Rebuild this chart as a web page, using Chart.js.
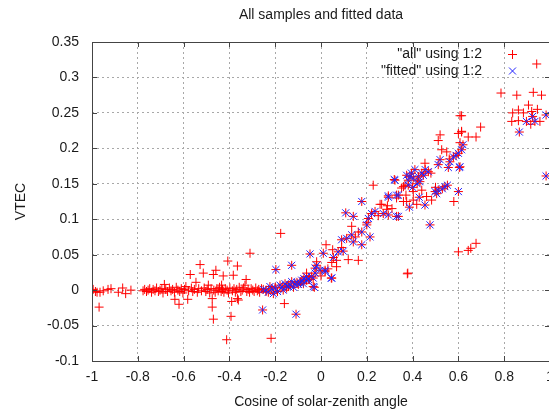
<!DOCTYPE html>
<html lang="en">
<head>
  <meta charset="UTF-8">
  <title>All samples and fitted data</title>
  <script src="https://cdn.jsdelivr.net/npm/chart.js"></script>
  <style>
    body { margin: 0; background: #fff; }
    #wrap { width: 549px; height: 413px; overflow: hidden; }
  </style>
</head>
<body>
  <div id="wrap"><canvas id="vtecChart" width="600" height="413"></canvas></div>

  <script>
    // tick values
    const xTicks = [-1, -0.8, -0.6, -0.4, -0.2, 0, 0.2, 0.4, 0.6, 0.8, 1];
    const yTicks = [-0.1, -0.05, 0, 0.05, 0.1, 0.15, 0.2, 0.25, 0.3, 0.35];

    // samples that were not used by the fit  [cos(sza), vtec]
    const allExtra = [
      [-0.995, 0.001], [-0.985, -0.002], [-0.978, -0.003], [-0.965, -0.003], [-0.951, -0.001],
      [-0.93, 0.001], [-0.917, 0.002], [-0.885, -0.003], [-0.866, 0.003], [-0.853, -0.005],
      [-0.83, 0.0], [-0.969, -0.024],
      [-0.777, -0.001], [-0.77, 0.001], [-0.762, -0.002], [-0.755, 0.0], [-0.748, 0.002],
      [-0.74, -0.003], [-0.733, 0.001], [-0.725, -0.001], [-0.718, 0.003], [-0.71, -0.002],
      [-0.703, 0.0], [-0.695, 0.002], [-0.69, -0.004], [-0.684, 0.008], [-0.678, 0.001],
      [-0.67, -0.002], [-0.662, 0.003], [-0.655, -0.001], [-0.648, 0.001], [-0.64, -0.003],
      [-0.638, -0.013], [-0.632, 0.004], [-0.625, 0.0], [-0.62, -0.02], [-0.617, -0.002],
      [-0.61, 0.002], [-0.603, -0.004], [-0.596, 0.001], [-0.59, 0.005], [-0.582, -0.013],
      [-0.578, -0.001], [-0.571, 0.022], [-0.566, 0.003], [-0.56, -0.002], [-0.553, 0.001],
      [-0.546, 0.011], [-0.54, -0.003], [-0.534, 0.002], [-0.528, 0.036], [-0.522, -0.001],
      [-0.514, 0.024], [-0.51, 0.003], [-0.503, -0.002], [-0.497, 0.001], [-0.492, 0.007],
      [-0.486, -0.004], [-0.48, 0.002], [-0.475, -0.012], [-0.475, -0.024], [-0.47, 0.022],
      [-0.47, -0.041], [-0.468, 0.0], [-0.462, -0.003], [-0.459, 0.028], [-0.455, 0.002],
      [-0.449, -0.001], [-0.443, 0.004], [-0.436, -0.002], [-0.434, 0.007], [-0.43, 0.001],
      [-0.427, 0.02], [-0.424, -0.003], [-0.418, 0.002], [-0.412, -0.07], [-0.41, 0.0],
      [-0.407, 0.041], [-0.404, -0.004], [-0.398, 0.003], [-0.393, -0.037], [-0.39, -0.016],
      [-0.387, -0.001], [-0.383, 0.021], [-0.38, 0.002], [-0.374, -0.003], [-0.368, 0.001],
      [-0.365, 0.034], [-0.365, -0.012], [-0.361, -0.014], [-0.357, 0.004], [-0.35, -0.002],
      [-0.344, 0.0], [-0.338, 0.003], [-0.332, 0.007], [-0.327, 0.015], [-0.324, -0.002],
      [-0.318, 0.001], [-0.31, 0.052], [-0.312, -0.003], [-0.305, 0.002], [-0.298, 0.0],
      [-0.292, -0.002], [-0.285, 0.003], [-0.278, -0.001], [-0.272, 0.001], [-0.268, -0.003],
      [-0.26, 0.002], [-0.24, -0.002], [-0.2, 0.004], [-0.15, 0.003], [-0.218, -0.068],
      [-0.176, 0.08], [-0.16, -0.019], [-0.09, 0.012], [-0.05, 0.015], [0.0, 0.02],
      [-0.063, 0.024], [-0.019, 0.04], [0.022, 0.064], [0.03, 0.03], [0.047, 0.039],
      [0.051, 0.057], [0.068, 0.042], [0.068, 0.033], [0.09, 0.06], [0.119, 0.043],
      [0.163, 0.042], [0.134, 0.09], [0.163, 0.082], [0.15, 0.075], [0.2, 0.095],
      [0.228, 0.148], [0.25, 0.105], [0.258, 0.121], [0.265, 0.121], [0.287, 0.114],
      [0.29, 0.119], [0.31, 0.115], [0.33, 0.13], [0.352, 0.144], [0.36, 0.146],
      [0.367, 0.148], [0.371, 0.134], [0.374, 0.125], [0.36, 0.125], [0.377, 0.023],
      [0.379, 0.024], [0.403, 0.139], [0.44, 0.141], [0.403, 0.127], [0.418, 0.121],
      [0.42, 0.155], [0.461, 0.132], [0.483, 0.127], [0.48, 0.165], [0.5, 0.145],
      [0.56, 0.185], [0.58, 0.125], [0.6, 0.054], [0.643, 0.056], [0.654, 0.059],
      [0.677, 0.066], [0.454, 0.179], [0.512, 0.211], [0.52, 0.219], [0.527, 0.198],
      [0.549, 0.195], [0.607, 0.246], [0.6, 0.221], [0.614, 0.223], [0.607, 0.208],
      [0.643, 0.216], [0.614, 0.246], [0.614, 0.224], [0.697, 0.23], [0.677, 0.216],
      [0.786, 0.278], [0.855, 0.275], [0.927, 0.279], [0.963, 0.275], [0.906, 0.261],
      [0.837, 0.25], [0.862, 0.254], [0.884, 0.25], [0.92, 0.252], [0.945, 0.255],
      [0.833, 0.238], [0.862, 0.239], [0.916, 0.234], [0.956, 0.238], [0.942, 0.319]
    ];

    // samples used by the fit (they are also part of "all")
    const fitted = [
      [-0.255, -0.028], [-0.197, 0.029], [-0.252, 0.001], [-0.24, 0.0], [-0.23, -0.003],
      [-0.223, 0.005], [-0.215, 0.002], [-0.208, -0.005], [-0.2, 0.003], [-0.19, -0.002],
      [-0.179, 0.007], [-0.17, 0.004], [-0.165, 0.0], [-0.157, 0.009], [-0.15, 0.006],
      [-0.142, 0.005], [-0.135, 0.007], [-0.128, 0.012], [-0.12, 0.004], [-0.114, 0.009],
      [-0.105, 0.011], [-0.099, 0.008], [-0.09, 0.01], [-0.084, 0.014], [-0.077, 0.009],
      [-0.075, 0.016], [-0.063, 0.019], [-0.063, 0.014], [-0.055, 0.015], [-0.041, 0.019],
      [-0.034, 0.017], [-0.034, 0.005], [-0.029, 0.004], [-0.026, 0.024], [-0.026, 0.031],
      [-0.019, 0.035], [-0.004, 0.028], [0.018, 0.026], [0.018, 0.028], [0.01, 0.052],
      [-0.048, 0.051], [-0.128, 0.035], [-0.109, -0.034], [0.045, 0.017], [0.047, 0.017],
      [0.054, 0.046], [0.075, 0.054], [0.097, 0.055], [0.09, 0.071], [0.112, 0.073],
      [0.134, 0.078], [0.141, 0.068], [0.141, 0.104], [0.108, 0.109], [0.178, 0.064],
      [0.178, 0.082], [0.178, 0.125], [0.2, 0.092], [0.207, 0.101], [0.214, 0.075],
      [0.221, 0.108], [0.236, 0.111], [0.272, 0.108], [0.294, 0.106], [0.294, 0.131],
      [0.294, 0.133], [0.33, 0.104], [0.338, 0.104], [0.33, 0.134], [0.338, 0.134],
      [0.323, 0.155], [0.32, 0.156], [0.381, 0.155], [0.374, 0.162], [0.389, 0.16],
      [0.395, 0.165], [0.403, 0.158], [0.41, 0.17], [0.42, 0.15], [0.426, 0.16],
      [0.44, 0.165], [0.447, 0.162], [0.455, 0.17], [0.469, 0.167], [0.381, 0.148],
      [0.4, 0.145], [0.432, 0.153], [0.386, 0.117], [0.429, 0.131], [0.454, 0.12],
      [0.476, 0.092], [0.498, 0.139], [0.505, 0.136], [0.512, 0.141], [0.53, 0.143],
      [0.541, 0.146], [0.552, 0.148], [0.6, 0.139], [0.512, 0.177], [0.52, 0.184],
      [0.556, 0.173], [0.563, 0.181], [0.578, 0.188], [0.59, 0.19], [0.6, 0.193],
      [0.604, 0.173], [0.607, 0.174], [0.614, 0.198], [0.62, 0.205],
      [0.866, 0.223], [0.897, 0.238], [0.924, 0.245], [0.934, 0.238], [0.983, 0.247],
      [0.983, 0.161]
    ];

    const textColor = '#1a1a1a';
    const frameColor = '#444';
    const font = { family: '"Liberation Sans", Arial, sans-serif', size: 14 };

    const toXY = p => ({ x: p[0], y: p[1] });

    // gnuplot-like frame with inward ticks, title and key
    const gnuplotLook = {
      id: 'gnuplotLook',
      afterDatasetsDraw(chart) {
        const { ctx, chartArea: a, scales } = chart;
        ctx.save();
        ctx.strokeStyle = frameColor;
        ctx.lineWidth = 1;
        ctx.beginPath();
        xTicks.forEach(v => {
          const px = Math.round(scales.x.getPixelForValue(v)) + 0.5;
          ctx.moveTo(px, a.bottom); ctx.lineTo(px, a.bottom - 5);
          ctx.moveTo(px, a.top); ctx.lineTo(px, a.top + 5);
        });
        yTicks.forEach(v => {
          const py = Math.round(scales.y.getPixelForValue(v)) + 0.5;
          ctx.moveTo(a.left, py); ctx.lineTo(a.left + 5, py);
          ctx.moveTo(a.right, py); ctx.lineTo(a.right - 5, py);
        });
        ctx.stroke();
        ctx.strokeRect(Math.round(a.left) + 0.5, Math.round(a.top) + 0.5,
          Math.round(a.right - a.left), Math.round(a.bottom - a.top));
        ctx.restore();
      },
      afterDraw(chart) {
        const { ctx, chartArea: a } = chart;
        ctx.save();
        ctx.font = font.size + 'px ' + font.family;
        ctx.fillStyle = textColor;
        ctx.textBaseline = 'middle';
        ctx.textAlign = 'center';
        ctx.fillText('All samples and fitted data', (a.left + a.right) / 2, 15);

        // key
        ctx.textAlign = 'right';
        ctx.fillText('"all" using 1:2', 482, 54);
        ctx.fillText('"fitted" using 1:2', 482, 71);
        ctx.lineWidth = 1;
        ctx.strokeStyle = '#ff0000';
        ctx.beginPath();
        ctx.moveTo(508, 54.5); ctx.lineTo(517, 54.5);
        ctx.moveTo(512.5, 50); ctx.lineTo(512.5, 59);
        ctx.stroke();
        ctx.strokeStyle = '#2020ff';
        ctx.beginPath();
        ctx.moveTo(509, 67.5); ctx.lineTo(516, 74.5);
        ctx.moveTo(516, 67.5); ctx.lineTo(509, 74.5);
        ctx.stroke();
        ctx.restore();
      }
    };

    const ctx = document.getElementById('vtecChart').getContext('2d');
    const chart = new Chart(ctx, {
      type: 'scatter',
      data: {
        datasets: [
          {
            label: '"fitted" using 1:2',
            data: fitted.map(toXY),
            pointStyle: 'crossRot',
            pointRadius: 5,
            borderWidth: 1,
            borderColor: '#2020ff',
            backgroundColor: '#2020ff',
            order: 0
          },
          {
            label: '"all" using 1:2',
            data: allExtra.concat(fitted).map(toXY),
            pointStyle: 'cross',
            pointRadius: 4.5,
            borderWidth: 1,
            borderColor: '#ff0000',
            backgroundColor: '#ff0000',
            order: 1
          }
        ]
      },
      options: {
        responsive: false,
        animation: false,
        devicePixelRatio: 1,
        layout: { padding: { top: 42, right: 50, left: 0, bottom: 0 } },
        plugins: {
          legend: { display: false },
          tooltip: { enabled: false }
        },
        elements: { point: { hoverRadius: 5 } },
        scales: {
          x: {
            type: 'linear',
            min: -1,
            max: 1,
            afterBuildTicks: s => { s.ticks = xTicks.map(v => ({ value: v })); },
            afterFit: s => { s.height = 52; },
            grid: { color: '#a8a8a8', lineWidth: 1, drawTicks: false },
            border: { display: false, dash: [2, 3] },
            ticks: {
              color: textColor,
              font: font,
              padding: 8,
              maxRotation: 0,
              callback: v => String(Number(v.toFixed(2)))
            },
            title: {
              display: true,
              text: 'Cosine of solar-zenith angle',
              color: textColor,
              font: font,
              padding: { top: 0, bottom: 2 }
            }
          },
          y: {
            type: 'linear',
            min: -0.1,
            max: 0.35,
            afterBuildTicks: s => { s.ticks = yTicks.map(v => ({ value: v })); },
            afterFit: s => { s.width = 92; },
            grid: { color: '#a8a8a8', lineWidth: 1, drawTicks: false },
            border: { display: false, dash: [2, 3] },
            ticks: {
              color: textColor,
              font: font,
              padding: 13,
              callback: v => String(Number(v.toFixed(2)))
            },
            title: {
              display: true,
              text: 'VTEC',
              color: textColor,
              font: font,
              padding: { top: 13, bottom: 13 }
            }
          }
        }
      },
      plugins: [gnuplotLook]
    });
  </script>
</body>
</html>
